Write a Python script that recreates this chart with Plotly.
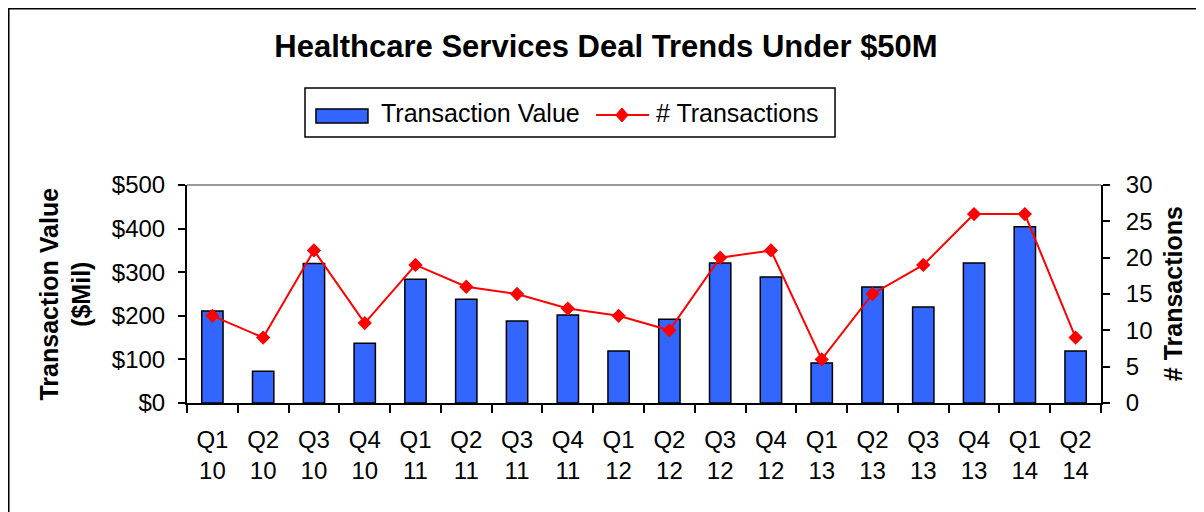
import plotly.graph_objects as go

categories = ["Q1<br>10", "Q2<br>10", "Q3<br>10", "Q4<br>10",
              "Q1<br>11", "Q2<br>11", "Q3<br>11", "Q4<br>11",
              "Q1<br>12", "Q2<br>12", "Q3<br>12", "Q4<br>12",
              "Q1<br>13", "Q2<br>13", "Q3<br>13", "Q4<br>13",
              "Q1<br>14", "Q2<br>14"]
transaction_value = [211, 73, 320, 137, 284, 238, 188, 202, 119,
                     192, 321, 289, 92, 266, 220, 321, 404, 119]
num_transactions = [12, 9, 21, 11, 19, 16, 15, 13, 12,
                    10, 20, 21, 6, 15, 19, 26, 26, 9]

FONT = "Arial, 'Liberation Sans', sans-serif"
BAR_COLOR = "#3366FF"
LINE_COLOR = "#FF0000"

fig = go.Figure()
fig.add_trace(go.Bar(
    x=categories, y=transaction_value, name="Transaction Value",
    marker=dict(color=BAR_COLOR, line=dict(color="black", width=1.5)),
    yaxis="y"))
fig.add_trace(go.Scatter(
    x=categories, y=num_transactions, name="# Transactions",
    mode="lines+markers",
    line=dict(color=LINE_COLOR, width=2),
    marker=dict(symbol="diamond", size=11, color=LINE_COLOR),
    yaxis="y2"))

# custom legend geometry (paper coords)
lg_box = dict(x0=0.1291, x1=0.709, y0=1.2202, y1=1.445)
sw = dict(x0=0.1411, x1=0.1980, y0=1.2844, y1=1.3486)
ln_y = 1.3211
ln_x0, ln_x1, mk_x = 0.4475, 0.5055, 0.4759
dx, dy = 0.0068, 0.032
diamond = (f"M {mk_x - dx},{ln_y} L {mk_x},{ln_y + dy} "
           f"L {mk_x + dx},{ln_y} L {mk_x},{ln_y - dy} Z")

fig.update_layout(
    width=1196, height=504,
    margin=dict(l=179, r=103, t=177, b=109),
    paper_bgcolor="white", plot_bgcolor="white",
    font=dict(family=FONT, color="black", size=24),
    bargap=0.58,
    showlegend=False,
    title=dict(text="<b>Healthcare Services Deal Trends Under $50M</b>",
               x=0.5, xanchor="center", y=1 - 38 / 504, yanchor="middle",
               font=dict(size=31, family=FONT, color="black")),
    xaxis=dict(type="category", range=[-0.5, 17.5], showline=True,
               linecolor="black", linewidth=2,
               ticks="outside", tickson="boundaries", ticklen=8, tickwidth=2,
               tickcolor="black", showgrid=False, ticklabelstandoff=14,
               tickfont=dict(size=24)),
    yaxis=dict(range=[0, 500], dtick=100, tickprefix="$", showline=True,
               linecolor="black", linewidth=2, ticks="outside", ticklen=7,
               tickwidth=2, tickcolor="black", showgrid=False, zeroline=False,
               ticklabelstandoff=8, tickfont=dict(size=24)),
    yaxis2=dict(range=[0, 30], dtick=5, overlaying="y", side="right",
                showline=True, linecolor="black", linewidth=2, ticks="outside",
                ticklen=7, tickwidth=2, tickcolor="black", showgrid=False,
                zeroline=False, ticklabelstandoff=11, tickfont=dict(size=24)),
    shapes=[
        dict(type="line", xref="paper", yref="paper", x0=0, x1=1, y0=1, y1=1,
             line=dict(color="#999999", width=2), layer="below"),
        dict(type="rect", xref="paper", yref="paper",
             x0=-0.1958, x1=1.2, y0=-0.7, y1=1.812,
             line=dict(color="black", width=3), layer="below"),
        dict(type="rect", xref="paper", yref="paper", **lg_box,
             line=dict(color="black", width=1.5), fillcolor="white"),
        dict(type="rect", xref="paper", yref="paper", **sw,
             line=dict(color="black", width=1.5), fillcolor=BAR_COLOR),
        dict(type="line", xref="paper", yref="paper",
             x0=ln_x0, x1=ln_x1, y0=ln_y, y1=ln_y,
             line=dict(color=LINE_COLOR, width=2)),
        dict(type="path", xref="paper", yref="paper", path=diamond,
             line=dict(color=LINE_COLOR, width=1), fillcolor=LINE_COLOR),
    ],
    annotations=[
        dict(text="<b>Transaction Value<br>($Mil)</b>", xref="paper", yref="paper",
             x=-0.134, y=0.5, xanchor="center", yanchor="middle",
             textangle=-90, showarrow=False,
             font=dict(size=25, family=FONT, color="black")),
        dict(text="<b># Transactions</b>", xref="paper", yref="paper",
             x=1.079, y=0.5, xanchor="center", yanchor="middle",
             textangle=-90, showarrow=False,
             font=dict(size=25, family=FONT, color="black")),
        dict(text="Transaction Value", xref="paper", yref="paper",
             x=0.2101, y=1.3303, xanchor="left", yanchor="middle",
             showarrow=False, font=dict(size=25, family=FONT, color="black")),
        dict(text="# Transactions", xref="paper", yref="paper",
             x=0.5109, y=1.3303, xanchor="left", yanchor="middle",
             showarrow=False, font=dict(size=25, family=FONT, color="black")),
    ],
)

fig.write_html("out.html")
